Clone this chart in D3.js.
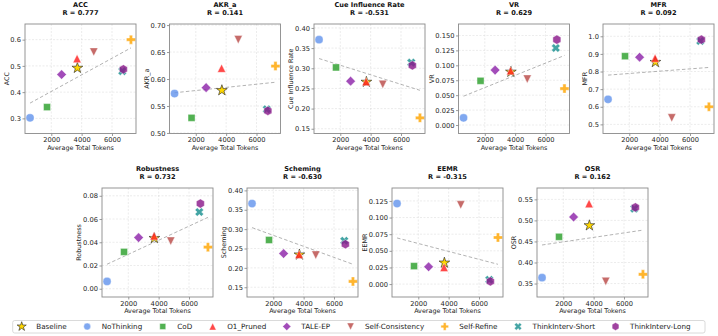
<!DOCTYPE html>
<html><head><meta charset="utf-8">
<script src="https://cdn.jsdelivr.net/npm/d3@7"></script>
<style>body{margin:0;background:#fff} svg{display:block;font-family:"DejaVu Sans",sans-serif}</style>
</head><body><svg id="c" width="718" height="336"></svg>
<script>
// ---------- data ----------
const methods = ["Baseline","NoThinking","CoD","O1_Pruned","TALE-EP","Self-Consistency","Self-Refine","ThinkInterv-Short","ThinkInterv-Long"];
const avgTokens = [3720, 600, 1720, 3700, 2680, 4800, 7250, 6680, 6750];
const metricNames = ["ACC","AKR_a","Cue Influence Rate","VR","MFR","Robustness","Scheming","EEMR","OSR"];
const rLabels = ["0.777","0.141","-0.531","0.629","0.092","0.732","-0.630","-0.315","0.162"];
const accValues        = [0.492, 0.302, 0.343, 0.528, 0.467, 0.553, 0.600, 0.480, 0.487];
const akrValues        = [0.579, 0.573, 0.528, 0.620, 0.584, 0.673, 0.624, 0.544, 0.541];
const cueValues        = [0.266, 0.371, 0.302, 0.267, 0.268, 0.260, 0.177, 0.314, 0.307];
const vrValues         = [0.089, 0.012, 0.074, 0.091, 0.092, 0.077, 0.061, 0.129, 0.143];
const mfrValues        = [0.853, 0.642, 0.887, 0.876, 0.881, 0.537, 0.600, 0.973, 0.981];
const robustnessValues = [0.0435, 0.0063, 0.0317, 0.0455, 0.044, 0.041, 0.0358, 0.066, 0.0733];
const schemingValues   = [0.234, 0.366, 0.272, 0.235, 0.237, 0.233, 0.165, 0.270, 0.261];
const eemrValues       = [0.032, 0.121, 0.027, 0.025, 0.026, 0.119, 0.070, 0.0066, 0.004];
const osrValues        = [0.488, 0.364, 0.461, 0.540, 0.508, 0.355, 0.372, 0.528, 0.531];
const xTickValues = [2000, 4000, 6000];
const yTickSets = [
  [0.3,0.4,0.5,0.6],
  [0.50,0.55,0.60,0.65,0.70],
  [0.15,0.20,0.25,0.30,0.35,0.40],
  [0,0.025,0.05,0.075,0.1,0.125,0.15],
  [0.5,0.6,0.7,0.8,0.9,1.0],
  [0,0.02,0.04,0.06,0.08],
  [0.15,0.20,0.25,0.30,0.35,0.40],
  [0,0.025,0.05,0.075,0.1,0.125],
  [0.35,0.40,0.45,0.50,0.55]
];
const yTickFormats = [".1f",".2f",".2f",".3f",".1f",".2f",".2f",".3f",".2f"];
const allValues = [accValues, akrValues, cueValues, vrValues, mfrValues, robustnessValues, schemingValues, eemrValues, osrValues];

// ---------- style ----------
const colors = ["#FFD700","#6495ED","#2ca02c","#ff2020","#8E24AA","#b94a48","#FFA500","#1a9090","#8B1A8B"];
const shapes = ["star","circle","square","triUp","diamond","triDown","plus","x","hex"];

function markerPath(kind, k) {
  k = k || 1;
  let a;
  switch (kind) {
    case "star": return d3.symbol(d3.symbolStar, 36*k*k)();
    case "circle": return d3.symbol(d3.symbolCircle, 52*k*k)();
    case "square": a=3.5*k; return `M${-a},${-a}H${a}V${a}H${-a}Z`;
    case "triUp": a=4.1*k; return `M0,${-a}L${a},${a}L${-a},${a}Z`;
    case "triDown": a=4.1*k; return `M0,${a}L${a},${-a}L${-a},${-a}Z`;
    case "diamond": a=4.8*k; return `M0,${-a}L${a},0L0,${a}L${-a},0Z`;
    case "plus": { a=4.5*k; const t=a/2.8;
      return `M${-t},${-a}H${t}V${-t}H${a}V${t}H${t}V${a}H${-t}V${t}H${-a}V${-t}H${-t}Z`; }
    case "x": { a=4.5*k; const t=a/2.8;
      const pts=[[-t,-a],[t,-a],[t,-t],[a,-t],[a,t],[t,t],[t,a],[-t,a],[-t,t],[-a,t],[-a,-t],[-t,-t]];
      const c=Math.SQRT1_2;
      return "M"+pts.map(p=>[(p[0]-p[1])*c,(p[0]+p[1])*c].join(",")).join("L")+"Z"; }
    case "hex": { a=4.6*k; const pts=d3.range(6).map(i=>{const ang=-Math.PI/2+i*Math.PI/3;return [a*Math.cos(ang),a*Math.sin(ang)];});
      return "M"+pts.map(p=>p.join(",")).join("L")+"Z"; }
  }
}

const svg = d3.select("#c");
const topLefts = [25, 169.5, 314, 458.5, 603];
const botLefts = [102, 247, 392, 537];
const panelW = 111;
const rowsGeo = [{top:24, h:109.5}, {top:188, h:109}];

metricNames.forEach((name, i) => {
  const row = i < 5 ? 0 : 1;
  const left = row === 0 ? topLefts[i] : botLefts[i-5];
  const top = rowsGeo[row].top, h = rowsGeo[row].h;
  const vals = allValues[i];
  const xr = d3.extent(avgTokens), xs = xr[1]-xr[0];
  const x = d3.scaleLinear().domain([xr[0]-0.05*xs, xr[1]+0.05*xs]).range([left, left+panelW]);
  const yr = d3.extent(vals), ys = yr[1]-yr[0];
  const y = d3.scaleLinear().domain([yr[0]-0.2*ys, yr[1]+0.2*ys]).range([top+h, top]);
  const g = svg.append("g");

  // grid
  g.selectAll(".gx").data(xTickValues).enter().append("line")
    .attr("x1", d=>x(d)).attr("x2", d=>x(d)).attr("y1", top).attr("y2", top+h)
    .attr("stroke", "#d8d8d8").attr("stroke-width", 0.5).attr("stroke-dasharray", "2,1.5");
  g.selectAll(".gy").data(yTickSets[i]).enter().append("line")
    .attr("x1", left).attr("x2", left+panelW).attr("y1", d=>y(d)).attr("y2", d=>y(d))
    .attr("stroke", "#d8d8d8").attr("stroke-width", 0.5).attr("stroke-dasharray", "2,1.5");

  // axes
  const ax = g.append("g").attr("transform", `translate(0,${top+h})`)
    .call(d3.axisBottom(x).tickValues(xTickValues).tickFormat(d3.format("d")).tickSize(2.5).tickPadding(1.5));
  const ay = g.append("g").attr("transform", `translate(${left},0)`)
    .call(d3.axisLeft(y).tickValues(yTickSets[i]).tickFormat(d3.format(yTickFormats[i])).tickSize(2.5).tickPadding(1.5));
  [ax, ay].forEach(a => {
    a.select(".domain").remove();
    a.selectAll("line").attr("stroke", "#555").attr("stroke-width", 0.6);
    a.selectAll("text").attr("fill", "#222").style("font-size", "6.7px").style("font-family", "DejaVu Sans");
  });

  // regression line (least squares fit of plotted points)
  const mx = d3.mean(avgTokens), my = d3.mean(vals);
  let sxy = 0, sxx = 0;
  avgTokens.forEach((t, j) => { sxy += (t-mx)*(vals[j]-my); sxx += (t-mx)*(t-mx); });
  const slope = sxy/sxx, icpt = my - slope*mx;
  g.append("line")
    .attr("x1", x(xr[0])).attr("y1", y(icpt + slope*xr[0]))
    .attr("x2", x(xr[1])).attr("y2", y(icpt + slope*xr[1]))
    .attr("stroke", "#aaaaaa").attr("stroke-width", 0.9).attr("stroke-dasharray", "3.5,2.2");

  // points
  methods.forEach((m, j) => {
    const p = g.append("path").attr("d", markerPath(shapes[j]))
      .attr("transform", `translate(${x(avgTokens[j])},${y(vals[j])})`)
      .attr("fill", colors[j]);
    if (j === 0) p.attr("stroke", "#222").attr("stroke-width", 0.6);
    else p.attr("fill-opacity", 0.82).attr("stroke", "#fff").attr("stroke-width", 0.4);
  });

  // frame
  g.append("rect").attr("x", left).attr("y", top).attr("width", panelW).attr("height", h)
    .attr("fill", "none").attr("stroke", "#8a8a8a").attr("stroke-width", 0.9);

  // titles
  const cx = left + panelW/2;
  g.append("text").attr("x", cx).attr("y", top-16.7).attr("text-anchor", "middle")
    .style("font-size", "6.6px").style("font-weight", "bold").attr("fill", "#111").text(name);
  g.append("text").attr("x", cx).attr("y", top-8.7).attr("text-anchor", "middle")
    .style("font-size", "6.6px").style("font-weight", "bold").attr("fill", "#111").text("R = " + rLabels[i]);

  // x label
  g.append("text").attr("x", cx).attr("y", top+h+16).attr("text-anchor", "middle")
    .style("font-size", "6.4px").attr("fill", "#222").text("Average Total Tokens");

  // y label
  let minX = left;
  ay.selectAll("text").each(function(){ const b=this.getBBox(); minX=Math.min(minX, b.x + left); });
  const ly = top + h/2, lx = minX - 4;
  g.append("text").attr("transform", `translate(${lx},${ly}) rotate(-90)`).attr("text-anchor", "middle")
    .attr("dy", "0.35em").style("font-size", "6.4px").attr("fill", "#222").text(name);
});

// ---------- legend ----------
const leg = svg.append("g");
const legY = 326.5;
const items = leg.append("g");
let cur = 0;
methods.forEach((m, j) => {
  const it = items.append("g");
  const p = it.append("path").attr("d", markerPath(shapes[j], 0.85)).attr("transform", `translate(${cur},${legY})`).attr("fill", colors[j]);
  if (j === 0) p.attr("stroke", "#222").attr("stroke-width", 0.6);
  else p.attr("fill-opacity", 0.82).attr("stroke", "#fff").attr("stroke-width", 0.4);
  const t = it.append("text").attr("x", cur + 14.5).attr("y", legY).attr("dy", "0.35em")
    .style("font-size", "7.2px").attr("fill", "#222").text(m);
  cur = cur + 14.5 + t.node().getComputedTextLength() + 20.5;
});
const startX = 21.7;
items.attr("transform", `translate(${startX},0)`);
leg.insert("rect", ":first-child").attr("x", 12.7).attr("y", 320.5).attr("width", 692.3).attr("height", 12.5)
  .attr("rx", 2).attr("fill", "#fff").attr("stroke", "#d0d0d0").attr("stroke-width", 0.8);
</script></body></html>
